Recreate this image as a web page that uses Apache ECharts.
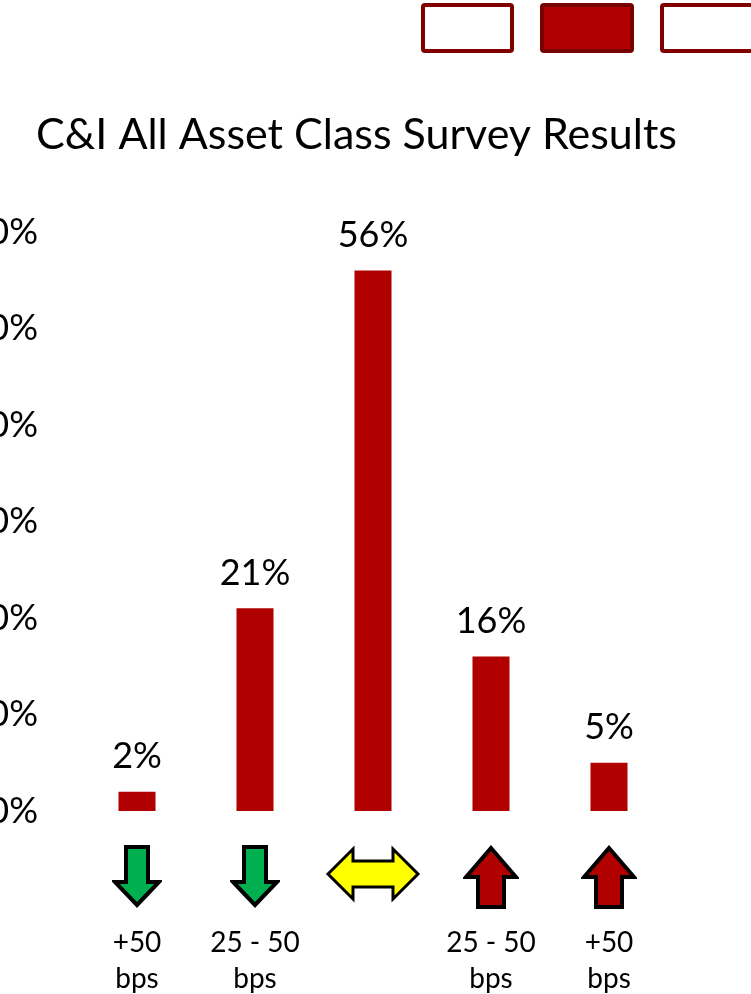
<!DOCTYPE html>
<html>
<head>
<meta charset="utf-8">
<script src="https://cdn.jsdelivr.net/npm/echarts@6/dist/echarts.min.js"></script>
<style>
  html, body { margin: 0; padding: 0; background: #fff; }
  #chart { width: 751px; height: 994px; }
</style>
</head>
<body>
<div id="chart"></div>
<script>
// survey data
var categories = ['+50\nbps', '25 - 50\nbps', '', '25 - 50\nbps', '+50\nbps'];
var directions = ['down', 'down', 'same', 'up', 'up'];
var values = [2, 21, 56, 16, 5];
var yTicks = [0, 10, 20, 30, 40, 50, 60];

function svgUrl(w, h, path, fill, sw) {
    var svg = '<svg xmlns="http://www.w3.org/2000/svg" width="' + w + '" height="' + h + '">' +
        '<path d="' + path + '" fill="' + fill + '" stroke="#000" stroke-width="' + sw + '" stroke-linejoin="miter"/></svg>';
    return 'data:image/svg+xml;charset=utf-8,' + encodeURIComponent(svg);
}
var icons = {
    down: svgUrl(50, 80, 'M14,2 H36 V37 H47 L25,60 L3,37 H14 Z', '#00b050', 4),
    same: svgUrl(96, 80, 'M3,29 L28,4 V16 H68 V4 L93,29 L68,54 V42 H28 V54 Z', '#ffff00', 3),
    up: svgUrl(56, 80, 'M28,3 L53,32 H41 V62 H15 V32 H3 Z', '#b00000', 4)
};

var dom = document.getElementById('chart');
var myChart = echarts.init(dom);
var labelFont = 'Lato';

var option = {
    backgroundColor: '#fff',
    animation: false,
    title: {
        text: 'C&I All Asset Class Survey Results',
        left: 31,
        top: 109,
        textStyle: { fontFamily: labelFont, fontWeight: 'normal', fontSize: 43, color: '#000' }
    },
    graphic: [
        { type: 'rect', shape: { x: 423, y: 5, width: 89, height: 46, r: 2 },
          style: { fill: '#fff', stroke: '#800000', lineWidth: 4 } },
        { type: 'rect', shape: { x: 542, y: 5, width: 90, height: 46, r: 2 },
          style: { fill: '#b00000', stroke: '#780000', lineWidth: 4 } },
        { type: 'rect', shape: { x: 662, y: 5, width: 100, height: 46, r: 2 },
          style: { fill: '#fff', stroke: '#800000', lineWidth: 4 } }
    ],
    grid: { left: 78, right: 83, top: 232, bottom: 183, outerBoundsMode: 'none', containLabel: false },
    xAxis: {
        type: 'category',
        data: categories,
        axisLine: { show: false },
        axisTick: { show: false },
        axisLabel: {
            interval: 0,
            margin: 34,
            formatter: function (val, idx) {
                var s = '{' + directions[idx] + '|}';
                if (val) {
                    s += '\n' + val.split('\n').map(function (t) { return '{t|' + t + '}'; }).join('\n');
                }
                return s;
            },
            rich: {
                down: { width: 50, height: 80, backgroundColor: { image: icons.down } },
                same: { width: 96, height: 80, backgroundColor: { image: icons.same } },
                up: { width: 56, height: 80, backgroundColor: { image: icons.up } },
                t: { fontFamily: labelFont, fontSize: 28, lineHeight: 36, color: '#000' }
            }
        }
    },
    yAxis: {
        type: 'value',
        min: yTicks[0],
        max: yTicks[yTicks.length - 1],
        interval: 10,
        splitLine: { show: false },
        axisLine: { show: false },
        axisTick: { show: false },
        axisLabel: {
            margin: 40,
            formatter: '{value}%',
            fontFamily: labelFont,
            fontSize: 36,
            color: '#000'
        }
    },
    series: [
        {
            type: 'bar',
            data: values,
            barWidth: 37,
            itemStyle: { color: '#b00000' },
            label: {
                show: true,
                position: 'top',
                distance: 17,
                formatter: '{c}%',
                fontFamily: labelFont,
                fontSize: 36,
                color: '#000'
            }
        }
    ]
};

myChart.setOption(option, true);
</script>
</body>
</html>
